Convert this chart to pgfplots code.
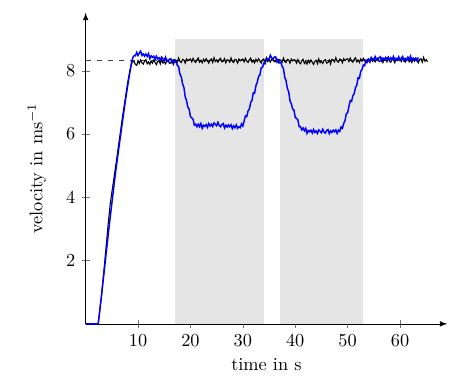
\documentclass[border=0pt]{standalone}
\usepackage{pgfplots}
\pgfplotsset{compat=1.18}
\begin{document}
\begin{tikzpicture}
\begin{axis}[name=ax,
  scale only axis, width=197.6pt, height=170pt,
  xmin=0, xmax=69, ymin=0, ymax=9.83,
  axis lines=left,
  axis line style={-latex},
  tick align=center,
  major tick style={black!55},
  xtick={10,20,30,40,50,60},
  ytick={2,4,6,8},
  xlabel={time in s},
  ylabel={velocity in ms$^{-1}$},
  ylabel shift={4pt},
  clip=false,
]
\addplot[draw=none, fill=gray!20] coordinates {(17,0)(34,0)(34,9)(17,9)} -- cycle;
\addplot[draw=none, fill=gray!20] coordinates {(37,0)(53,0)(53,9)(37,9)} -- cycle;
\addplot[black!75, dashed, thin] coordinates {(0,8.33)(65,8.33)};
\addplot[black, line width=0.6pt] coordinates {
(0,0)(2.4,0)(3.0,0.85)(3.5,1.7)(4.0,2.6)(4.3,3.15)(4.7,3.8)(5.0,4.15)(5.4,4.6)(6.0,5.3)(6.5,5.9)(7.0,6.5)(7.5,7.05)(8.0,7.6)(8.5,8.05)(8.9,8.28)(9.2,8.3)(9.5,8.2)(9.75,8.17)
(10.00,8.32)(10.25,8.23)(10.50,8.34)(10.75,8.25)(11.00,8.21)(11.25,8.30)(11.50,8.35)(11.75,8.22)(12.00,8.28)(12.25,8.20)
(12.50,8.31)(12.75,8.24)(13.00,8.33)(13.25,8.26)(13.50,8.19)(13.75,8.29)(14.00,8.32)(14.25,8.21)(14.50,8.36)(14.75,8.24)
(15.00,8.29)(15.25,8.22)(15.50,8.31)(15.75,8.34)(16.00,8.23)(16.25,8.25)(16.50,8.33)(16.75,8.20)(17.00,8.35)(17.25,8.33)
(17.50,8.27)(17.75,8.40)(18.00,8.29)(18.25,8.26)(18.50,8.36)(18.75,8.34)(19.00,8.24)(19.25,8.37)(19.50,8.31)(19.75,8.35)
(20.00,8.37)(20.25,8.28)(20.50,8.39)(20.75,8.30)(21.00,8.26)(21.25,8.35)(21.50,8.40)(21.75,8.27)(22.00,8.33)(22.25,8.25)
(22.50,8.36)(22.75,8.29)(23.00,8.38)(23.25,8.31)(23.50,8.24)(23.75,8.34)(24.00,8.37)(24.25,8.26)(24.50,8.41)(24.75,8.29)
(25.00,8.34)(25.25,8.27)(25.50,8.36)(25.75,8.39)(26.00,8.28)(26.25,8.30)(26.50,8.38)(26.75,8.25)(27.00,8.35)(27.25,8.33)
(27.50,8.27)(27.75,8.40)(28.00,8.29)(28.25,8.26)(28.50,8.36)(28.75,8.34)(29.00,8.24)(29.25,8.37)(29.50,8.31)(29.75,8.35)
(30.00,8.37)(30.25,8.28)(30.50,8.39)(30.75,8.30)(31.00,8.26)(31.25,8.35)(31.50,8.40)(31.75,8.27)(32.00,8.33)(32.25,8.25)
(32.50,8.36)(32.75,8.29)(33.00,8.38)(33.25,8.31)(33.50,8.24)(33.75,8.34)(34.00,8.37)(34.25,8.26)(34.50,8.41)(34.75,8.29)
(35.00,8.34)(35.25,8.27)(35.50,8.36)(35.75,8.39)(36.00,8.28)(36.25,8.30)(36.50,8.38)(36.75,8.25)(37.00,8.35)(37.25,8.33)
(37.50,8.27)(37.75,8.40)(38.00,8.29)(38.25,8.26)(38.50,8.36)(38.75,8.34)(39.00,8.24)(39.25,8.37)(39.50,8.31)(39.75,8.35)
(40.00,8.33)(40.25,8.24)(40.50,8.35)(40.75,8.26)(41.00,8.22)(41.25,8.31)(41.50,8.36)(41.75,8.23)(42.00,8.29)(42.25,8.21)
(42.50,8.32)(42.75,8.25)(43.00,8.34)(43.25,8.27)(43.50,8.20)(43.75,8.30)(44.00,8.33)(44.25,8.22)(44.50,8.37)(44.75,8.25)
(45.00,8.30)(45.25,8.23)(45.50,8.32)(45.75,8.35)(46.00,8.24)(46.25,8.26)(46.50,8.34)(46.75,8.21)(47.00,8.36)(47.25,8.34)
(47.50,8.28)(47.75,8.41)(48.00,8.30)(48.25,8.27)(48.50,8.37)(48.75,8.35)(49.00,8.25)(49.25,8.38)(49.50,8.32)(49.75,8.36)
(50.00,8.38)(50.25,8.29)(50.50,8.40)(50.75,8.31)(51.00,8.27)(51.25,8.36)(51.50,8.41)(51.75,8.28)(52.00,8.34)(52.25,8.26)
(52.50,8.37)(52.75,8.30)(53.00,8.39)(53.25,8.32)(53.50,8.25)(53.75,8.35)(54.00,8.38)(54.25,8.27)(54.50,8.42)(54.75,8.30)
(55.00,8.35)(55.25,8.28)(55.50,8.37)(55.75,8.40)(56.00,8.29)(56.25,8.31)(56.50,8.39)(56.75,8.26)(57.00,8.36)(57.25,8.34)
(57.50,8.28)(57.75,8.41)(58.00,8.30)(58.25,8.27)(58.50,8.37)(58.75,8.35)(59.00,8.25)(59.25,8.38)(59.50,8.32)(59.75,8.36)
(60.00,8.38)(60.25,8.29)(60.50,8.40)(60.75,8.31)(61.00,8.27)(61.25,8.36)(61.50,8.41)(61.75,8.28)(62.00,8.34)(62.25,8.26)
(62.50,8.37)(62.75,8.30)(63.00,8.39)(63.25,8.32)(63.50,8.25)(63.75,8.35)(64.00,8.38)(64.25,8.27)(64.50,8.42)(64.75,8.30)
(65.00,8.35)(65.25,8.28)
};
\addplot[blue, line width=0.8pt] coordinates {
(0,0)(2.4,0)(3.0,0.85)(3.5,1.6)(4.0,2.35)(4.5,3.1)(5.0,3.8)(5.5,4.5)(6.0,5.15)(6.5,5.75)(7.0,6.35)(7.5,6.95)(8.0,7.5)(8.5,8.0)(8.8,8.3)(9.1,8.45)(9.3,8.48)
(9.50,8.47)(9.75,8.58)(10.00,8.48)(10.25,8.56)(10.50,8.62)(10.75,8.48)(11.00,8.53)(11.25,8.46)(11.50,8.53)(11.75,8.45)
(12.00,8.54)(12.25,8.38)(12.50,8.47)(12.75,8.42)(13.00,8.46)(13.25,8.36)(13.50,8.46)(13.75,8.37)(14.00,8.41)(14.25,8.32)
(14.50,8.43)(14.75,8.38)(15.00,8.32)(15.25,8.43)(15.50,8.33)(15.75,8.29)(16.00,8.36)(16.25,8.38)(16.50,8.25)(16.75,8.33)
(17.00,8.27)(17.25,8.30)(17.50,8.17)(17.75,8.13)(18.00,7.89)(18.25,7.81)(18.50,7.58)(18.75,7.48)(19.00,7.18)(19.25,7.06)
(19.50,6.85)(19.75,6.79)(20.00,6.55)(20.25,6.51)(20.50,6.47)(20.75,6.28)(21.00,6.31)(21.25,6.23)(21.50,6.31)(21.75,6.23)
(22.00,6.33)(22.25,6.18)(22.50,6.28)(22.75,6.24)(23.00,6.30)(23.25,6.21)(23.50,6.33)(23.75,6.25)(24.00,6.31)(24.25,6.24)
(24.50,6.35)(24.75,6.31)(25.00,6.26)(25.25,6.37)(25.50,6.27)(25.75,6.23)(26.00,6.30)(26.25,6.33)(26.50,6.19)(26.75,6.28)
(27.00,6.22)(27.25,6.29)(27.50,6.23)(27.75,6.29)(28.00,6.17)(28.25,6.26)(28.50,6.20)(28.75,6.29)(29.00,6.18)(29.25,6.23)
(29.50,6.20)(29.75,6.32)(30.00,6.25)(30.25,6.41)(30.50,6.57)(30.75,6.55)(31.00,6.73)(31.25,6.79)(31.50,7.00)(31.75,7.06)
(32.00,7.30)(32.25,7.29)(32.50,7.53)(32.75,7.63)(33.00,7.82)(33.25,7.86)(33.50,8.09)(33.75,8.10)(34.00,8.24)(34.25,8.22)
(34.50,8.38)(34.75,8.38)(35.00,8.36)(35.25,8.49)(35.50,8.41)(35.75,8.37)(36.00,8.43)(36.25,8.44)(36.50,8.28)(36.75,8.34)
(37.00,8.25)(37.25,8.27)(37.50,8.14)(37.75,8.07)(38.00,7.79)(38.25,7.69)(38.50,7.44)(38.75,7.34)(39.00,7.05)(39.25,6.96)
(39.50,6.79)(39.75,6.76)(40.00,6.53)(40.25,6.49)(40.50,6.45)(40.75,6.23)(41.00,6.23)(41.25,6.13)(41.50,6.19)(41.75,6.10)
(42.00,6.18)(42.25,6.02)(42.50,6.11)(42.75,6.07)(43.00,6.12)(43.25,6.03)(43.50,6.14)(43.75,6.05)(44.00,6.10)(44.25,6.02)
(44.50,6.13)(44.75,6.09)(45.00,6.04)(45.25,6.15)(45.50,6.06)(45.75,6.03)(46.00,6.11)(46.25,6.14)(46.50,6.01)(46.75,6.10)
(47.00,6.05)(47.25,6.12)(47.50,6.07)(47.75,6.13)(48.00,6.02)(48.25,6.12)(48.50,6.08)(48.75,6.22)(49.00,6.18)(49.25,6.33)
(49.50,6.42)(49.75,6.64)(50.00,6.67)(50.25,6.87)(50.50,7.05)(50.75,7.03)(51.00,7.21)(51.25,7.27)(51.50,7.47)(51.75,7.54)
(52.00,7.78)(52.25,7.76)(52.50,7.98)(52.75,8.04)(53.00,8.18)(53.25,8.16)(53.50,8.33)(53.75,8.27)(54.00,8.35)(54.25,8.29)
(54.50,8.41)(54.75,8.38)(55.00,8.33)(55.25,8.45)(55.50,8.36)(55.75,8.33)(56.00,8.41)(56.25,8.44)(56.50,8.31)(56.75,8.40)
(57.00,8.35)(57.25,8.42)(57.50,8.37)(57.75,8.43)(58.00,8.32)(58.25,8.41)(58.50,8.36)(58.75,8.45)(59.00,8.34)(59.25,8.39)
(59.50,8.35)(59.75,8.44)(60.00,8.33)(60.25,8.40)(60.50,8.45)(60.75,8.32)(61.00,8.39)(61.25,8.34)(61.50,8.43)(61.75,8.36)
(62.00,8.46)(62.25,8.31)(62.50,8.40)(62.75,8.36)(63.00,8.40)(63.25,8.31)(63.50,8.42)
};
\end{axis}
\path ([xshift=-46.8pt,yshift=-28.4pt]ax.south west) rectangle ([xshift=204.6pt,yshift=177pt]ax.south west);
\end{tikzpicture}
\end{document}
